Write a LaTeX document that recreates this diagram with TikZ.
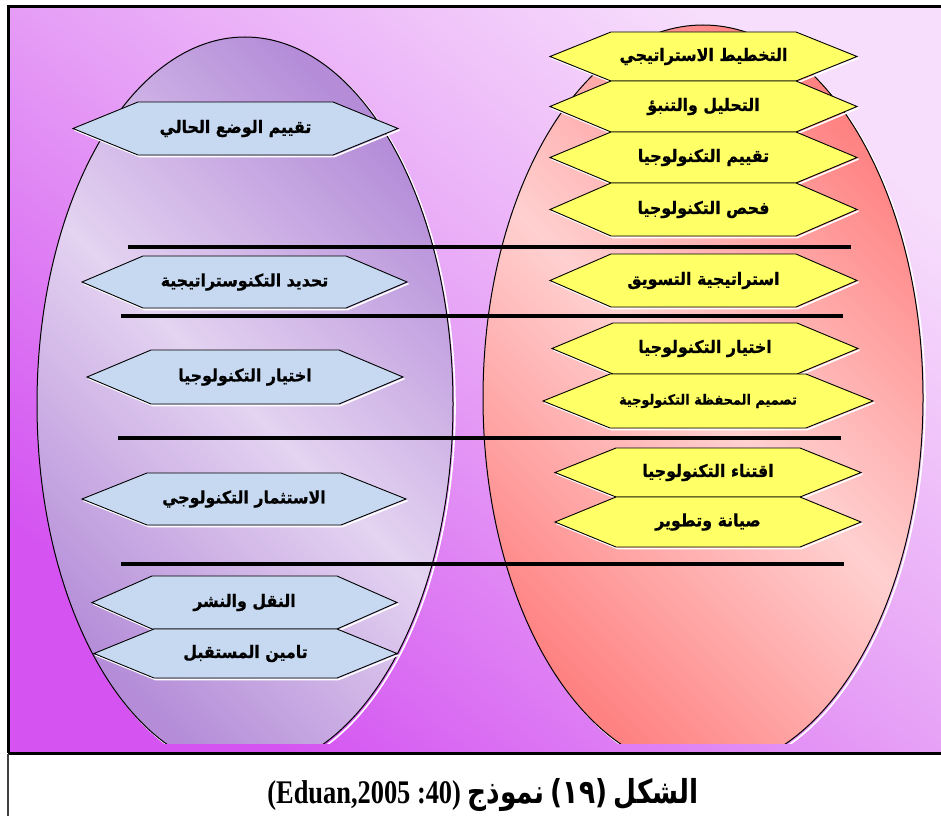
\documentclass[tikz,border=0pt]{standalone}
\usepackage{fontspec}
\usepackage{graphicx}
\setmainfont{Liberation Serif}
\newfontfamily\arabicfont[Script=Arabic, BoldFeatures={FakeBold=0.8}, FakeStretch=0.92]{DejaVu Sans}
\newfontfamily\captionarabic[Script=Arabic]{DejaVu Sans}
\TeXXeTstate=1

\definecolor{bgdark}{HTML}{D453F1}
\definecolor{bgmid}{HTML}{E6A0F6}
\definecolor{bglight}{HTML}{F7DEFC}
\definecolor{lavdark}{HTML}{B48CD8}
\definecolor{lavlight}{HTML}{E4D3F1}
\definecolor{salmondark}{HTML}{FF8282}
\definecolor{salmonlight}{HTML}{FFD0D0}
\definecolor{hexblue}{HTML}{C6D9F1}
\definecolor{hexyellow}{HTML}{FFFF66}

% #1 name, #2 cx, #3 cy, #4 half width, #5 point inset, #6 half height, #7 fill, #8 label style, #9 text
\newcommand{\hexbox}[9]{%
  \draw[white, line width=1.6pt, shift={(1.5,1.5)}]
    ({#2-#4},{#3}) -- ({#2-#4+#5},{#3+#6}) -- ({#2+#4-#5},{#3+#6}) -- ({#2+#4},{#3});
  \filldraw[hexedge, fill=#7]
    ({#2-#4},{#3}) -- ({#2-#4+#5},{#3-#6}) -- ({#2+#4-#5},{#3-#6}) -- ({#2+#4},{#3})
    -- ({#2+#4-#5},{#3+#6}) -- ({#2-#4+#5},{#3+#6}) -- cycle;
  \node[#8] (#1) at (#2,#3) {#9};
}

\begin{document}
\begin{tikzpicture}[x=1pt, y=-1pt,
  hexedge/.style={draw=black, line width=0.9pt, line join=miter},
  hexlabel/.style={inner sep=0pt, font=\arabicfont\bfseries\fontsize{17.2}{19}\selectfont},
  smalllabel/.style={inner sep=0pt, font=\arabicfont\bfseries\fontsize{14}{16}\selectfont},
  sepline/.style={draw=black, line width=3.2pt},
  eggedge/.style={draw=black, line width=1pt},
  eggshadow/.style={draw=white, line width=1.6pt}]

\useasboundingbox (0,0) rectangle (941,816);
\clip (0,0) rectangle (941,816);
\fill[white] (0,0) rectangle (941,816);

% coloured panel
\shade[top color=bglight, bottom color=bgdark, middle color=bgmid, shading angle=-40]
  (8,7) rectangle (960,753);

% the two eggs, cut flat at the panel foot
\begin{scope}
  \clip (0,0) rectangle (941,743);
  \draw[eggshadow] (247,406) ellipse [x radius=208, y radius=367];
  \shade[top color=lavdark, bottom color=lavdark, middle color=lavlight, shading angle=-45]
    (245,404) ellipse [x radius=208, y radius=367];
  \draw[eggedge] (245,404) ellipse [x radius=208, y radius=367];

  \draw[eggshadow] (705,400) ellipse [x radius=220, y radius=373];
  \shade[top color=salmondark, bottom color=salmondark, middle color=salmonlight, shading angle=-45]
    (703,398) ellipse [x radius=220, y radius=373];
  \draw[eggedge] (703,398) ellipse [x radius=220, y radius=373];
\end{scope}

% panel frame and caption strip
\draw[black, line width=3pt] (8,753) -- (8,7) -- (960,7);
\draw[black, line width=3pt] (8,753) -- (960,753);
\draw[black!75, line width=1.5pt] (8,754) -- (8,816);

% stage separators
\draw[sepline] (128,247) -- (851,247);
\draw[sepline] (121,316) -- (843,316);
\draw[sepline] (118,438) -- (841,438);
\draw[sepline] (121,564) -- (844,564);

% left column
\hexbox{l1}{235.5}{128.5}{162.5}{65}{26.5}{hexblue}{hexlabel}{\beginR تقييم الوضع الحالي\endR}
\hexbox{l2}{244.5}{282}{162.5}{61}{26}{hexblue}{hexlabel}{\beginR تحديد التكنوستراتيجية\endR}
\hexbox{l3}{245}{377}{158}{64}{27}{hexblue}{hexlabel}{\beginR اختيار التكنولوجيا\endR}
\hexbox{l4}{244}{499}{162}{65}{26}{hexblue}{hexlabel}{\beginR الاستثمار التكنولوجي\endR}
\hexbox{l5}{244.5}{602.5}{152.5}{60}{26.5}{hexblue}{hexlabel}{\beginR النقل والنشر\endR}
\hexbox{l6}{245.5}{653.5}{151.5}{60}{24.5}{hexblue}{hexlabel}{\beginR تامين المستقبل\endR}

% right column
\hexbox{r1}{703.5}{56.5}{153.5}{61}{24.5}{hexyellow}{hexlabel}{\beginR التخطيط الاستراتيجي\endR}
\hexbox{r2}{703.5}{106.5}{153.5}{61}{25.5}{hexyellow}{hexlabel}{\beginR التحليل والتنبؤ\endR}
\hexbox{r3}{703.5}{157.5}{153.5}{61}{25.5}{hexyellow}{hexlabel}{\beginR تقييم التكنولوجيا\endR}
\hexbox{r4}{703.5}{209.5}{153.5}{61}{26.5}{hexyellow}{hexlabel}{\beginR فحص التكنولوجيا\endR}
\hexbox{r5}{703.5}{280.5}{153.5}{61}{26.5}{hexyellow}{hexlabel}{\beginR استراتيجية التسويق\endR}
\hexbox{r6}{705}{348.5}{153}{61}{25.5}{hexyellow}{hexlabel}{\beginR اختيار التكنولوجيا\endR}
\hexbox{r7}{708}{401}{165}{67}{27}{hexyellow}{smalllabel}{\beginR تصميم المحفظة التكنولوجية\endR}
\hexbox{r8}{708}{472.5}{153}{61}{24.5}{hexyellow}{hexlabel}{\beginR اقتناء التكنولوجيا\endR}
\hexbox{r9}{708}{522}{153}{61}{25}{hexyellow}{hexlabel}{\beginR صيانة وتطوير\endR}

% caption
\node[inner sep=0pt] (caption) at (483,795) {\scalebox{0.8}[1]{\bfseries\fontsize{33}{36}\selectfont
  (Eduan,2005 :40) {\captionarabic\beginR نموذج\endR} {\captionarabic (١٩)} {\captionarabic\beginR الشكل\endR}}};
\end{tikzpicture}
\end{document}
